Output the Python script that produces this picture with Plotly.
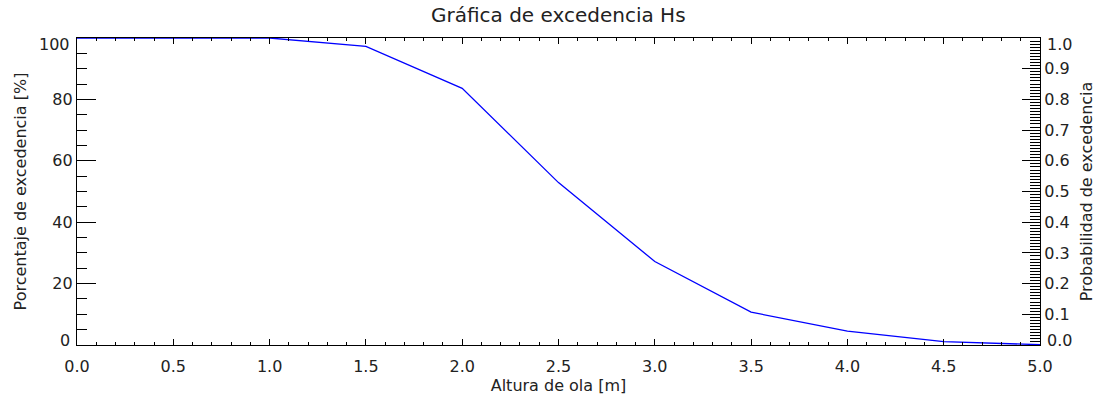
import plotly.graph_objects as go

# Significant wave height (m) and exceedance percentage
altura_ola = [0.0, 0.5, 1.0, 1.5, 2.0, 2.5, 3.0, 3.5, 4.0, 4.5, 5.0]
excedencia_pct = [100.0, 100.0, 100.0, 97.3, 83.6, 52.9, 27.2, 10.7, 4.5, 1.1, 0.1]

x_ticks = [0.0, 0.5, 1.0, 1.5, 2.0, 2.5, 3.0, 3.5, 4.0, 4.5, 5.0]
x_tick_labels = ["0.0", "0.5", "1.0", "1.5", "2.0", "2.5", "3.0", "3.5", "4.0", "4.5", "5.0"]
y_ticks = [0, 20, 40, 60, 80, 100]
y_tick_labels = ["0", "20", "40", "60", "80", "100"]
y2_ticks = [0.0, 0.1, 0.2, 0.3, 0.4, 0.5, 0.6, 0.7, 0.8, 0.9, 1.0]
y2_tick_labels = ["0.0", "0.1", "0.2", "0.3", "0.4", "0.5", "0.6", "0.7", "0.8", "0.9", "1.0"]

FONT = "DejaVu Sans"
TEXT = "#222222"
AX = "#000000"
FS = 16


def inner_labels(labels):
    # end labels are drawn separately, nudged towards the inside of the frame
    return [""] + labels[1:-1] + [""]


fig = go.Figure()
fig.add_trace(go.Scatter(
    x=altura_ola, y=excedencia_pct, mode="lines",
    line=dict(color="#0000ff", width=1.3),
    cliponaxis=False, showlegend=False, hoverinfo="skip",
))
# invisible trace so the probability axis is drawn
fig.add_trace(go.Scatter(
    x=[altura_ola[0]], y=[y2_ticks[0]], yaxis="y2", mode="markers",
    marker=dict(opacity=0), showlegend=False, hoverinfo="skip",
))

annotations = []
for val, lab, shift in [(y_ticks[0], y_tick_labels[0], 5), (y_ticks[-1], y_tick_labels[-1], -6)]:
    annotations.append(dict(x=0, xref="paper", y=val, yref="y", text=lab, showarrow=False,
                            xanchor="right", yanchor="middle", xshift=-5, yshift=shift,
                            font=dict(size=FS, color=TEXT)))
for val, lab, shift in [(y2_ticks[0], y2_tick_labels[0], 5), (y2_ticks[-1], y2_tick_labels[-1], -6)]:
    annotations.append(dict(x=1, xref="paper", y=val, yref="y2", text=lab, showarrow=False,
                            xanchor="left", yanchor="middle", xshift=5, yshift=shift,
                            font=dict(size=FS, color=TEXT)))

fig.update_layout(
    width=1099, height=396,
    margin=dict(l=77, r=59, t=38, b=51, autoexpand=False),
    paper_bgcolor="white", plot_bgcolor="white",
    font=dict(family=FONT, size=FS, color=TEXT),
    title=dict(text="Gráfica de excedencia Hs", x=0.508, xanchor="center",
               y=0.962, yanchor="middle", font=dict(size=20, color=TEXT)),
    annotations=annotations,
    xaxis=dict(
        range=[0, 5], tickmode="array", tickvals=x_ticks, ticktext=x_tick_labels,
        ticks="inside", ticklen=6, tickwidth=1, tickcolor=AX,
        minor=dict(dtick=0.1, ticks="inside", ticklen=3, tickwidth=1, tickcolor=AX, showgrid=False),
        showline=True, linecolor=AX, linewidth=1.3, mirror="ticks",
        showgrid=False, zeroline=False, ticklabelstandoff=7, automargin=False,
        title=dict(text="Altura de ola [m]", standoff=4, font=dict(size=FS, color=TEXT)),
        tickfont=dict(size=FS, color=TEXT),
    ),
    yaxis=dict(
        range=[0, 100], tickmode="array", tickvals=y_ticks, ticktext=inner_labels(y_tick_labels),
        ticks="inside", ticklen=19, tickwidth=1, tickcolor=AX,
        minor=dict(dtick=5, ticks="inside", ticklen=10, tickwidth=1, tickcolor=AX, showgrid=False),
        showline=True, linecolor=AX, linewidth=1.3,
        showgrid=False, zeroline=False, automargin=False,
        title=dict(text="Porcentaje de excedencia [%]", standoff=21, font=dict(size=FS, color=TEXT)),
        tickfont=dict(size=FS, color=TEXT),
    ),
    yaxis2=dict(
        range=[0, 1], overlaying="y", side="right",
        tickmode="array", tickvals=y2_ticks, ticktext=inner_labels(y2_tick_labels),
        ticks="inside", ticklen=18, tickwidth=1, tickcolor=AX,
        minor=dict(dtick=0.01, ticks="inside", ticklen=10, tickwidth=1, tickcolor=AX, showgrid=False),
        showline=True, linecolor=AX, linewidth=1.3,
        showgrid=False, zeroline=False, automargin=False,
        title=dict(text="Probabilidad de excedencia", standoff=11, font=dict(size=FS, color=TEXT)),
        tickfont=dict(size=FS, color=TEXT),
    ),
)

fig.write_html("out.html")
